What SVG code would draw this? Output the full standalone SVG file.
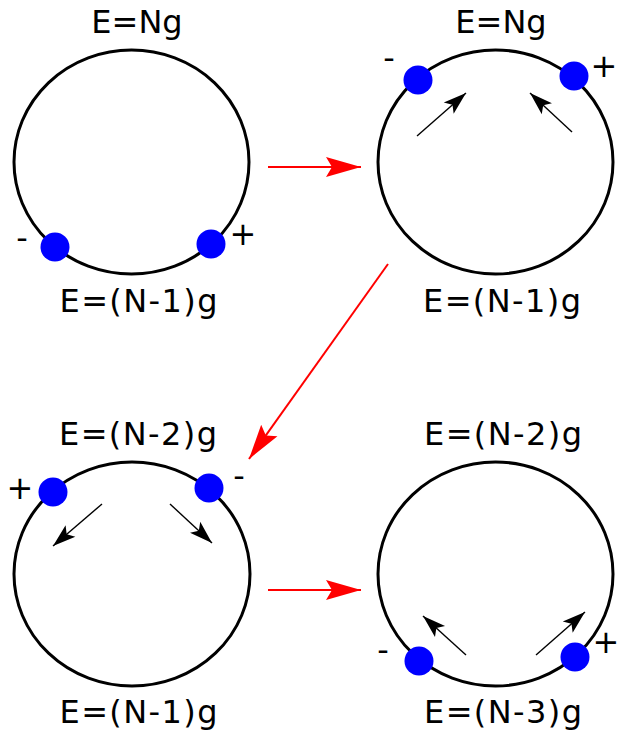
<svg xmlns="http://www.w3.org/2000/svg" width="618" height="731" viewBox="0 0 618 731">
<style>
.ring{fill:none;stroke:#000;stroke-width:3}
.dot{fill:#0000ff;stroke:none}
.lbl{font-family:"DejaVu Sans",Verdana,sans-serif;font-size:32px;fill:#000;text-anchor:middle}
.red{fill:none;stroke:#ff0000;stroke-width:2}
.blk{fill:none;stroke:#000;stroke-width:1.4}
</style>
<defs>
<marker id="redhead" markerUnits="userSpaceOnUse" markerWidth="40" markerHeight="24" viewBox="-36 -12 40 24" refX="0" refY="0" orient="auto">
<path d="M0,0 L-35,-10 L-29,0 L-35,10 z" fill="#ff0000"/>
</marker>
<marker id="blkhead" markerUnits="userSpaceOnUse" markerWidth="28" markerHeight="20" viewBox="-24 -10 28 20" refX="0" refY="0" orient="auto">
<path d="M0,0 L-23,-7.5 L-18,0 L-23,7.5 z" fill="#000"/>
</marker>
</defs>
<rect width="618" height="731" fill="#fff"/>

<g id="state1">
<ellipse class="ring" cx="131.5" cy="162" rx="117.5" ry="112"/>
<circle class="dot" cx="55" cy="247" r="14.5"/>
<circle class="dot" cx="211" cy="244" r="14.5"/>
<text class="lbl" x="137" y="33">E=Ng</text>
<text class="lbl" x="138.5" y="312" textLength="158" lengthAdjust="spacing">E=(N-1)g</text>
<text class="lbl" x="22" y="249">-</text>
<text class="lbl" x="243" y="245">+</text>
</g>

<g id="state2">
<ellipse class="ring" cx="495.5" cy="162" rx="117.5" ry="112"/>
<circle class="dot" cx="418" cy="80" r="14.5"/>
<circle class="dot" cx="574" cy="76" r="14.5"/>
<text class="lbl" x="501" y="33">E=Ng</text>
<text class="lbl" x="502" y="312" textLength="158" lengthAdjust="spacing">E=(N-1)g</text>
<text class="lbl" x="389" y="69">-</text>
<text class="lbl" x="604" y="77">+</text>
<line class="blk" x1="417" y1="136" x2="466" y2="93" marker-end="url(#blkhead)"/>
<line class="blk" x1="572" y1="132" x2="530" y2="93" marker-end="url(#blkhead)"/>
</g>

<g id="state3">
<ellipse class="ring" cx="132" cy="574" rx="118" ry="112"/>
<circle class="dot" cx="53" cy="492" r="14.5"/>
<circle class="dot" cx="209" cy="488" r="14.5"/>
<text class="lbl" x="138" y="445" textLength="158" lengthAdjust="spacing">E=(N-2)g</text>
<text class="lbl" x="138.5" y="723" textLength="158" lengthAdjust="spacing">E=(N-1)g</text>
<text class="lbl" x="20" y="499">+</text>
<text class="lbl" x="239" y="487">-</text>
<line class="blk" x1="102" y1="504" x2="53" y2="546" marker-end="url(#blkhead)"/>
<line class="blk" x1="170" y1="504" x2="212" y2="543" marker-end="url(#blkhead)"/>
</g>

<g id="state4">
<ellipse class="ring" cx="495.5" cy="574" rx="117.5" ry="112"/>
<circle class="dot" cx="419" cy="661" r="14.5"/>
<circle class="dot" cx="575" cy="657" r="14.5"/>
<text class="lbl" x="503" y="445" textLength="158" lengthAdjust="spacing">E=(N-2)g</text>
<text class="lbl" x="503" y="723" textLength="158" lengthAdjust="spacing">E=(N-3)g</text>
<text class="lbl" x="383" y="661">-</text>
<text class="lbl" x="606" y="653">+</text>
<line class="blk" x1="466" y1="655" x2="423" y2="616" marker-end="url(#blkhead)"/>
<line class="blk" x1="536" y1="655" x2="585" y2="612" marker-end="url(#blkhead)"/>
</g>

<g id="connectors">
<line class="red" x1="268" y1="167" x2="361" y2="167" marker-end="url(#redhead)"/>
<line class="red" x1="388" y1="264" x2="249" y2="459" marker-end="url(#redhead)"/>
<line class="red" x1="268" y1="590" x2="361" y2="590" marker-end="url(#redhead)"/>
</g>
</svg>
